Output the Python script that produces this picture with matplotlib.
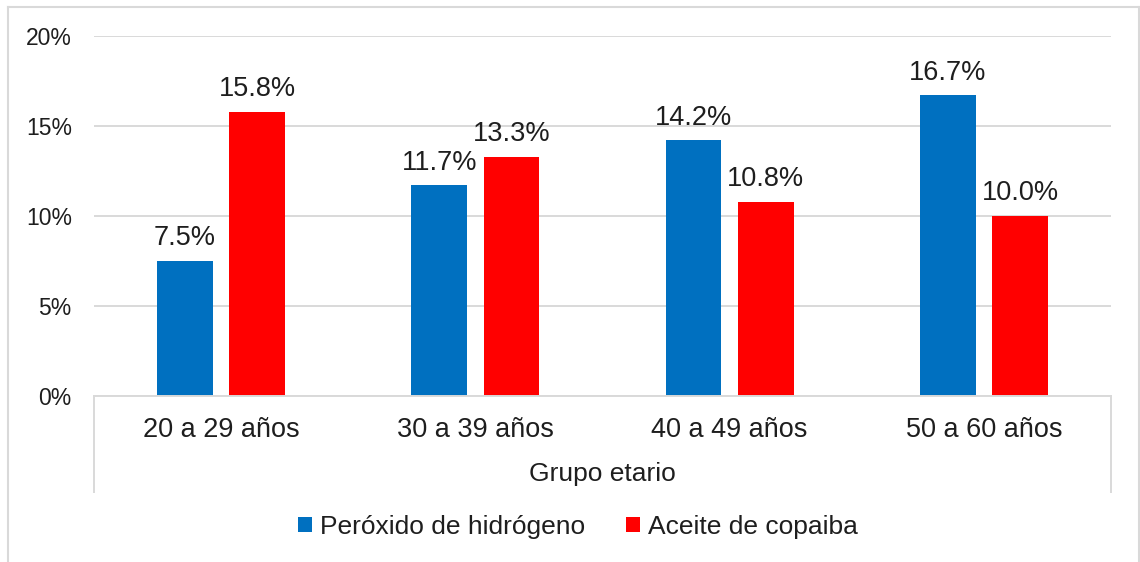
import numpy as np
import matplotlib
matplotlib.use("Agg")
import matplotlib.pyplot as plt
from matplotlib.lines import Line2D

plt.rcParams["font.family"] = ["Liberation Sans", "DejaVu Sans"]

categories = ["20 a 29 años", "30 a 39 años", "40 a 49 años", "50 a 60 años"]
peroxido = [7.5, 11.7, 14.2, 16.7]
copaiba = [15.8, 13.3, 10.8, 10.0]
series_names = ["Peróxido de hidrógeno", "Aceite de copaiba"]
yticks = [0, 5, 10, 15, 20]

BLUE, RED = "#0070C0", "#FF0000"
GRID = "#D9D9D9"
TXT = "#1e1e1e"
W, H = 1140, 562

fig = plt.figure(figsize=(W / 100, H / 100), dpi=100)
ax = fig.add_axes([94 / W, 1 - 396 / H, (1111 - 94) / W, (396 - 36) / H])

x = np.arange(len(categories))
bw, off = 0.22, 0.142
b1 = ax.bar(x - off, peroxido, bw, color=BLUE, label=series_names[0], zorder=3)
b2 = ax.bar(x + off, copaiba, bw, color=RED, label=series_names[1], zorder=3)
for bars in (b1, b2):
    ax.bar_label(bars, labels=[f"{v:.1f}%" for v in bars.datavalues],
                 padding=7, fontsize=19.5, color=TXT)

ax.set_xlim(-0.5, len(categories) - 0.5)
ax.set_ylim(0, 20)
ax.set_yticks(yticks)
ax.set_yticklabels([f"{t}%" for t in yticks])
ax.set_xticks(x)
ax.set_xticklabels(categories)
ax.tick_params(axis="y", length=0, pad=16, labelsize=16.5, labelcolor=TXT)
ax.tick_params(axis="x", length=0, pad=15, labelsize=19.5, labelcolor=TXT)
ax.grid(axis="y", color=GRID, lw=1.4, zorder=0)
for s in ("top", "right", "left"):
    ax.spines[s].set_visible(False)
ax.spines["bottom"].set_color(GRID)
ax.spines["bottom"].set_linewidth(1.4)
ax.spines["bottom"].set_zorder(4)

# category box lines below the axis
drop = -(492 - 396) / (396 - 36)
for xa in (0, 1):
    ax.add_line(Line2D([xa, xa], [0, drop], transform=ax.transAxes,
                       color=GRID, lw=1.4, clip_on=False))

fig.text((94 + 1111) / 2 / W, 1 - 474 / H, "Grupo etario", ha="center",
         va="center", fontsize=19, color=TXT)

ax.legend(loc="center", bbox_to_anchor=(578 / W, 1 - 527 / H),
          bbox_transform=fig.transFigure, ncol=2, frameon=False,
          fontsize=19, handlelength=0.53, handleheight=0.53,
          handletextpad=0.3, columnspacing=1.55, labelcolor=TXT)

# chart border (left, top, right)
for xs, ys in (([8, 8], [7, H]), ([8, 1139], [7, 7]), ([1139, 1139], [7, H])):
    fig.add_artist(Line2D([v / W for v in xs], [1 - v / H for v in ys],
                          color=GRID, lw=1.5))

fig.savefig("out.png", dpi=100)
